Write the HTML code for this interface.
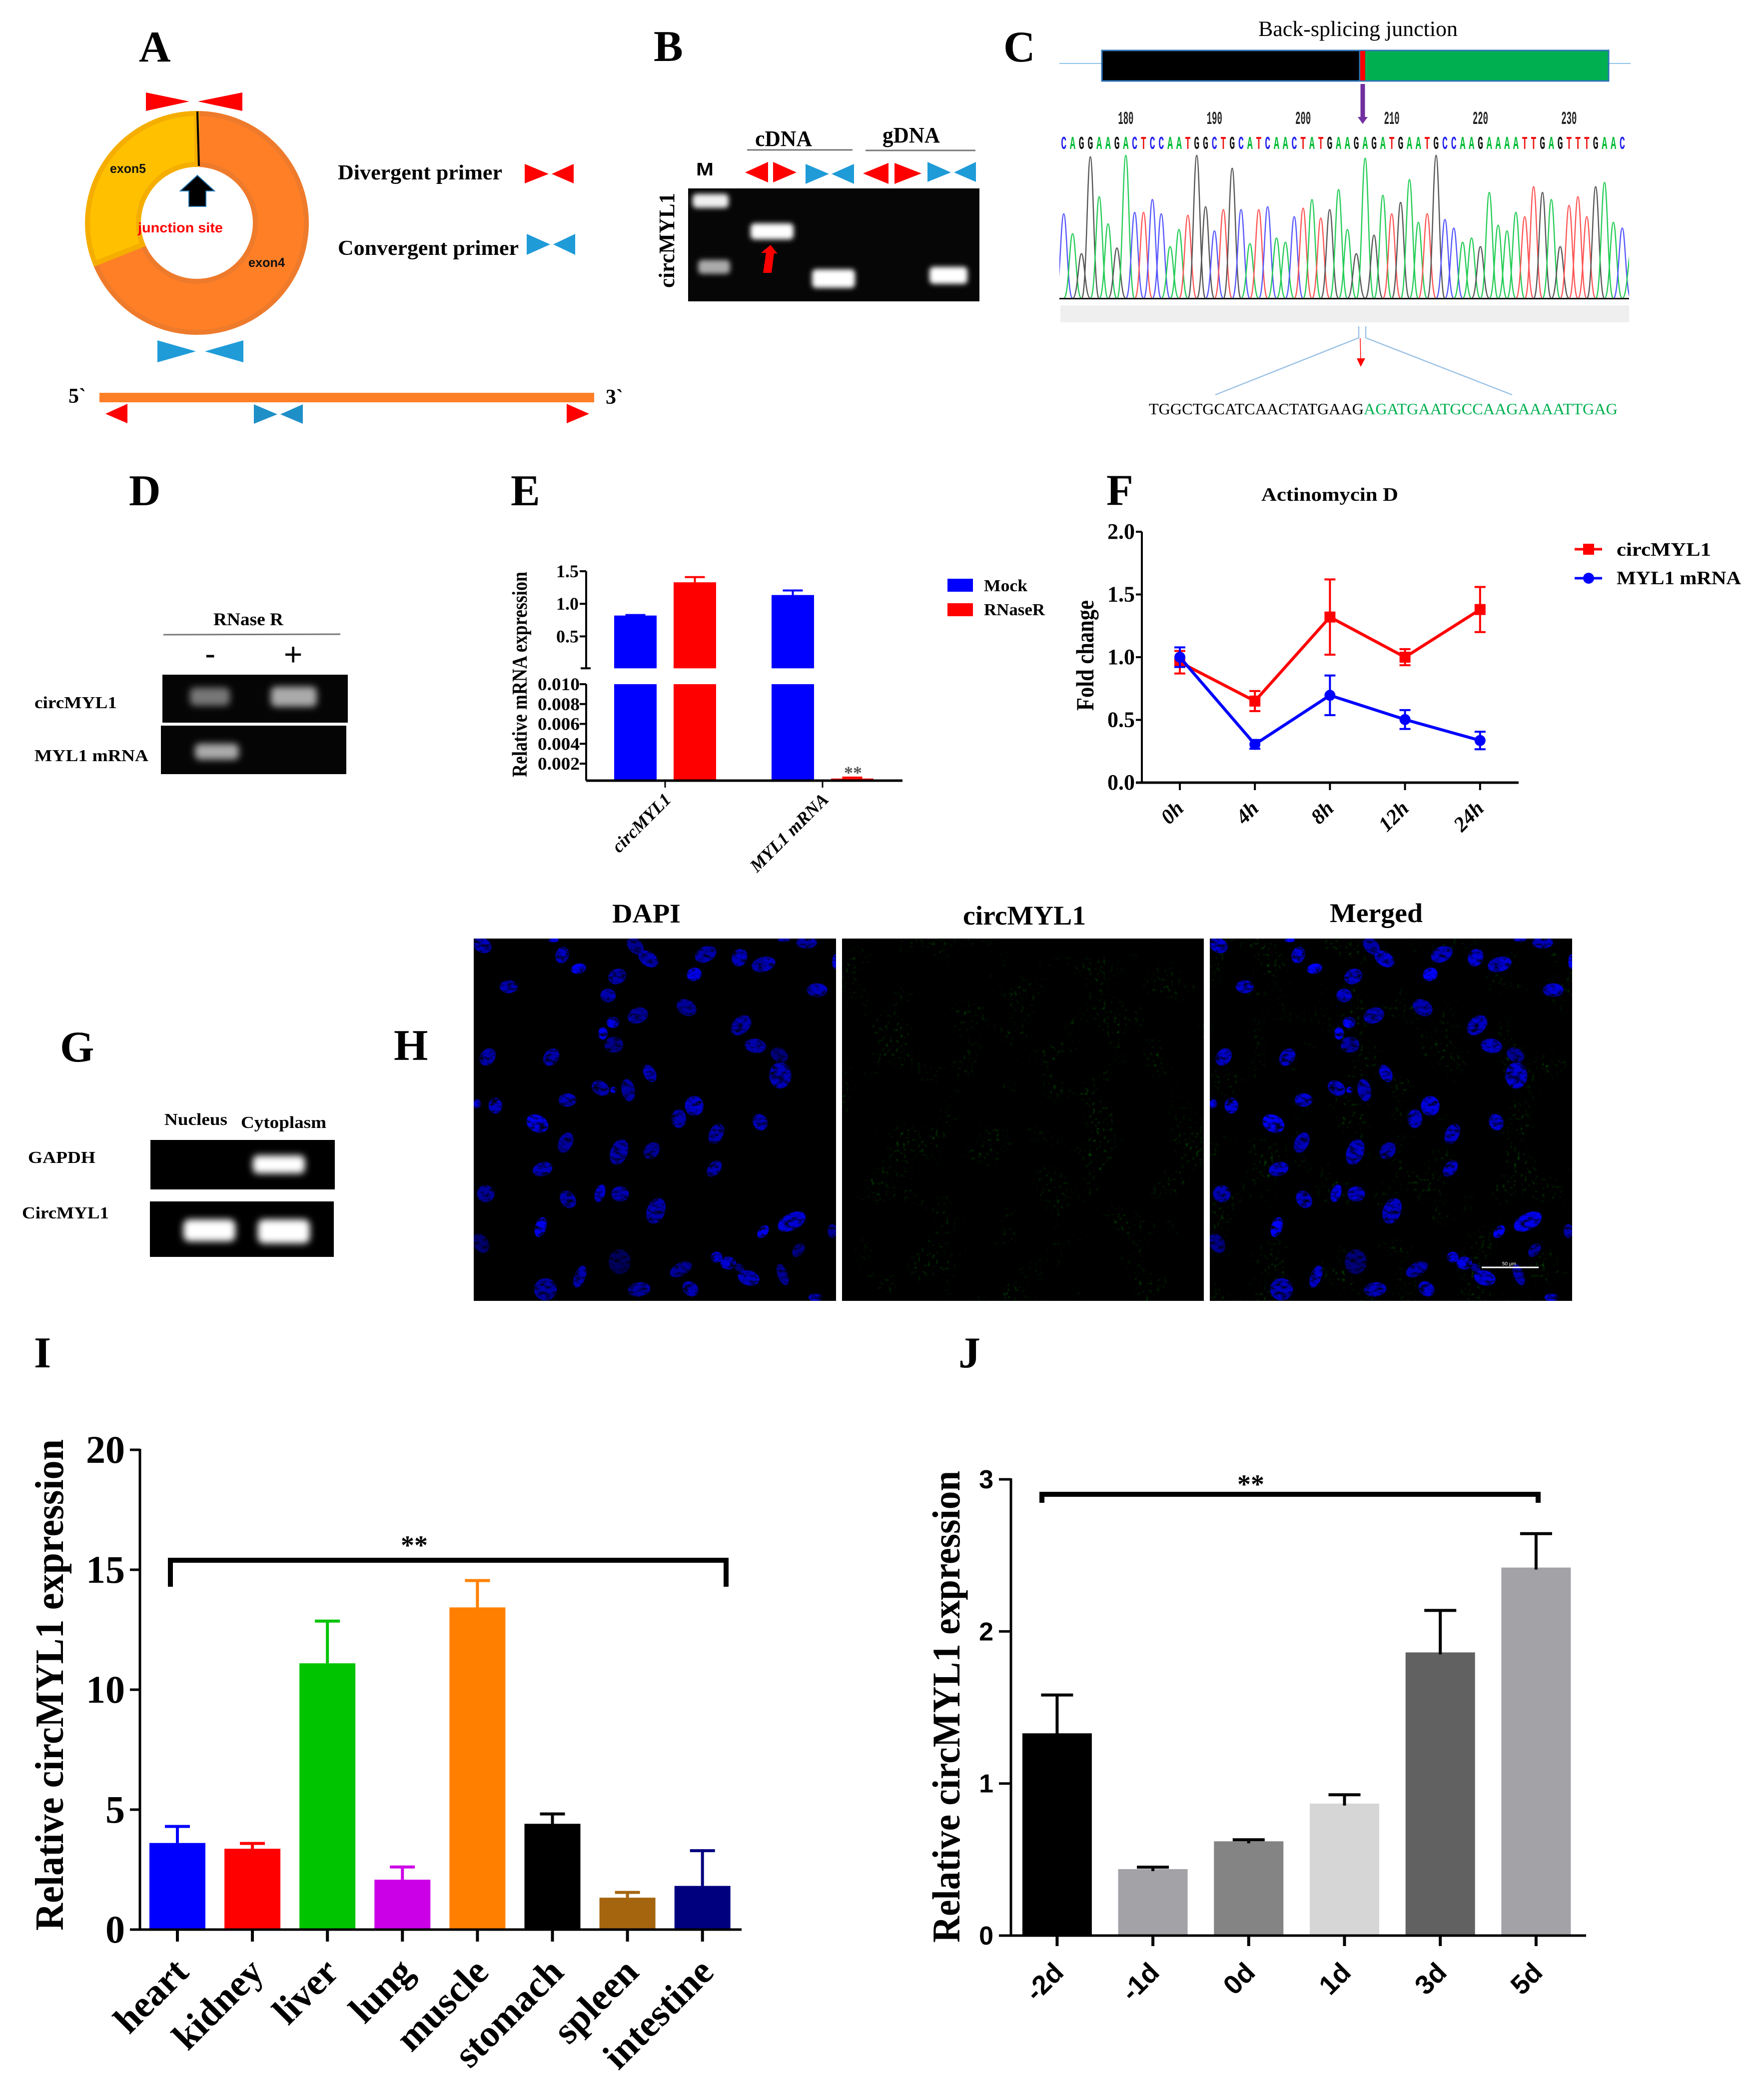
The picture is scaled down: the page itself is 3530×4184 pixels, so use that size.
<!DOCTYPE html>
<html lang="en">
<head>
<meta charset="utf-8">
<title>circMYL1 multi-panel figure</title>
<style>
html,body{margin:0;padding:0;background:#fff}
svg{display:block}
text{font-family:"Liberation Serif",serif}
.b{font-weight:bold}
.l{font-weight:bold;font-size:88px}
.s{font-family:"Liberation Sans",sans-serif}
</style>
</head>
<body>
<svg id="figure" xmlns="http://www.w3.org/2000/svg" width="3530" height="4184" viewBox="0 0 3530 4184">
<defs>
<filter id="b3" x="-30%" y="-60%" width="160%" height="220%"><feGaussianBlur stdDeviation="5"/></filter>
<filter id="b6" x="-30%" y="-80%" width="160%" height="260%"><feGaussianBlur stdDeviation="7"/></filter>
<filter id="n1" x="-5%" y="-5%" width="110%" height="110%" color-interpolation-filters="sRGB">
<feGaussianBlur in="SourceGraphic" stdDeviation="0.9" result="s"/>
<feTurbulence type="fractalNoise" baseFrequency="0.07" numOctaves="2" seed="7" result="t"/>
<feColorMatrix in="t" type="matrix" values="0 0 0 0 0  0 0 0 0 0  0 0 0 0 0.1  3 0 0 0 -1.3" result="d"/>
<feComposite in="d" in2="s" operator="in" result="dd"/>
<feMerge><feMergeNode in="s"/><feMergeNode in="dd"/></feMerge>
</filter>
<filter id="speckle" x="0" y="0" width="100%" height="100%" color-interpolation-filters="sRGB">
<feTurbulence type="fractalNoise" baseFrequency="0.14" numOctaves="2" seed="4" result="fine"/>
<feColorMatrix in="fine" type="matrix" values="0 0 0 0 0  0.3 0 0 0 0  0 0 0 0 0  4 0 0 0 -2.3" result="dots"/>
<feTurbulence type="fractalNoise" baseFrequency="0.012" numOctaves="2" seed="9" result="big"/>
<feColorMatrix in="big" type="matrix" values="0 0 0 0 0  0 0 0 0 0  0 0 0 0 0  0 5 0 0 -2.5" result="mask"/>
<feComposite in="dots" in2="mask" operator="in"/>
</filter>
<clipPath id="chromClip"><rect x="2120" y="270" width="1140" height="335"/></clipPath>
<clipPath id="img1"><rect x="948" y="1878" width="725" height="725"/></clipPath>
<clipPath id="img3"><rect x="2421" y="1878" width="725" height="725"/></clipPath>
</defs>
<rect width="3530" height="4184" fill="#fff"/>

<!-- Panel letters -->
<g fill="#000">
<text class="l" x="278" y="123">A</text>
<text class="l" x="1308" y="122">B</text>
<text class="l" x="2008" y="123">C</text>
<text class="l" x="258" y="1011">D</text>
<text class="l" x="1022" y="1011">E</text>
<text class="l" x="2214" y="1010">F</text>
<text class="l" x="120" y="2124">G</text>
<text class="l" x="788" y="2121">H</text>
<text class="l" x="68" y="2736">I</text>
<text class="l" x="1918" y="2736">J</text>
</g>

<!-- Panel A -->
<g>
<polygon points="292,185 379,203 292,222" fill="#f00"/>
<polygon points="485,185 396,203 485,222" fill="#f00"/>
<path d="M394,227 A219,219 0 1 1 190.7,527.3 L285.4,489.5 A117,117 0 1 0 394,329 Z" fill="#FF7F27" stroke="#EE7A2B" stroke-width="10"/>
<path d="M394,227 A219,219 0 0 0 190.7,527.3 L285.4,489.5 A117,117 0 0 1 394,329 Z" fill="#FFC000" stroke="#F5AE00" stroke-width="10"/>
<line x1="395" y1="223" x2="398" y2="332" stroke="#000" stroke-width="4"/>
<polygon points="395,351 429,382 412,382 412,413 378,413 378,382 361,382" fill="#000" stroke="#1F6FA8" stroke-width="2"/>
<text class="s b" x="276" y="465" font-size="28" fill="#f00" textLength="170" lengthAdjust="spacingAndGlyphs">junction site</text>
<text class="s" x="220" y="346" font-size="26" font-weight="bold" fill="#111" textLength="72" lengthAdjust="spacingAndGlyphs">exon5</text>
<text class="s" x="497" y="534" font-size="26" font-weight="bold" fill="#111" textLength="73" lengthAdjust="spacingAndGlyphs">exon4</text>
<text class="b" x="676" y="359" font-size="42" textLength="329" lengthAdjust="spacingAndGlyphs">Divergent primer</text>
<polygon points="1050,328 1098,348 1050,367" fill="#f00"/>
<polygon points="1148,328 1104,348 1148,367" fill="#f00"/>
<text class="b" x="676" y="510" font-size="42" textLength="362" lengthAdjust="spacingAndGlyphs">Convergent primer</text>
<polygon points="1054,468 1101,489 1054,510" fill="#1F9BD8"/>
<polygon points="1151,468 1107,489 1151,510" fill="#1F9BD8"/>
<polygon points="315,681 392,703 315,725" fill="#1F9BD8"/>
<polygon points="487,681 410,703 487,725" fill="#1F9BD8"/>
<rect x="199" y="786" width="990" height="19" fill="#FF7F27"/>
<text class="b" x="137" y="806" font-size="42">5`</text>
<text class="b" x="1212" y="808" font-size="42">3`</text>
<polygon points="255,808 211,828 255,847" fill="#f00"/>
<polygon points="508,809 555,829 508,848" fill="#1F8FC8"/>
<polygon points="606,809 561,829 606,848" fill="#1F8FC8"/>
<polygon points="1134,808 1179,828 1134,847" fill="#f00"/>
</g>

<!-- Panel B -->
<g>
<text class="b" x="1511" y="292" font-size="44" textLength="114" lengthAdjust="spacingAndGlyphs">cDNA</text>
<text class="b" x="1766" y="285" font-size="44" textLength="115" lengthAdjust="spacingAndGlyphs">gDNA</text>
<line x1="1495" y1="300" x2="1706" y2="300" stroke="#777" stroke-width="3"/>
<line x1="1732" y1="301" x2="1952" y2="301" stroke="#777" stroke-width="3"/>
<text class="s b" x="1393" y="351" font-size="36" textLength="35" lengthAdjust="spacingAndGlyphs">M</text>
<polygon points="1537,324 1491,345 1537,365" fill="#f00"/>
<polygon points="1547,324 1594,345 1547,365" fill="#f00"/>
<polygon points="1612,328 1659,348 1612,368" fill="#1F9BD8"/>
<polygon points="1709,328 1664,348 1709,368" fill="#1F9BD8"/>
<polygon points="1778,326 1727,347 1778,368" fill="#f00"/>
<polygon points="1790,326 1844,347 1790,368" fill="#f00"/>
<polygon points="1856,324 1903,345 1856,364" fill="#1F9BD8"/>
<polygon points="1953,324 1909,345 1953,364" fill="#1F9BD8"/>
<rect x="1377" y="377" width="583" height="226" fill="#060606"/>
<g filter="url(#b3)">
<rect x="1386" y="388" width="72" height="28" rx="8" fill="#f0f0f0"/>
<rect x="1397" y="520" width="64" height="28" rx="8" fill="#aaa"/>
<rect x="1502" y="447" width="86" height="32" rx="8" fill="#fff"/>
<rect x="1625" y="539" width="86" height="37" rx="8" fill="#fff"/>
<rect x="1860" y="534" width="76" height="34" rx="8" fill="#fff"/>
</g>
<polygon points="1542,490 1556,508 1549,507 1544,546 1527,546 1533,506 1523,506" fill="#f00"/>
<text class="b" transform="translate(1349,576) rotate(-90)" font-size="44" textLength="190" lengthAdjust="spacingAndGlyphs">circMYL1</text>
</g>

<!-- Panel C -->
<g>
<text x="2518" y="72" font-size="43" textLength="399" lengthAdjust="spacingAndGlyphs">Back-splicing junction</text>
<line x1="2120" y1="127" x2="2205" y2="127" stroke="#8CC4EA" stroke-width="2"/>
<line x1="3219" y1="127" x2="3263" y2="127" stroke="#8CC4EA" stroke-width="2"/>
<rect x="2205" y="101" width="1014" height="61" fill="#00B050" stroke="#2E75B6" stroke-width="3"/>
<rect x="2205" y="101" width="516" height="61" fill="#000" stroke="#2E75B6" stroke-width="3"/>
<rect x="2722" y="102" width="10" height="59" fill="#f00"/>
<line x1="2727" y1="168" x2="2727" y2="236" stroke="#7030A0" stroke-width="9"/>
<polygon points="2717,234 2737,234 2727,248" fill="#7030A0"/>
<g id="chromLayer" clip-path="url(#chromClip)"></g>
<g id="chromLetters"></g>
<g id="chromTicks"></g>
<rect x="2120" y="596" width="1140" height="3" fill="#111"/>
<rect x="2122" y="611" width="1138" height="34" fill="#EFEFEF"/>
<path d="M2719,653 V676 L2432,790" fill="none" stroke="#9DC3E6" stroke-width="2.5"/>
<path d="M2733,653 V676 L3026,790" fill="none" stroke="#9DC3E6" stroke-width="2.5"/>
<line x1="2722" y1="677" x2="2723" y2="720" stroke="#f00" stroke-width="1.5"/>
<polygon points="2715,717 2732,717 2723,734" fill="#f00"/>
<text x="2299" y="829" font-size="32" textLength="430" lengthAdjust="spacingAndGlyphs">TGGCTGCATCAACTATGAAG</text>
<text x="2729" y="829" font-size="32" fill="#00B050" textLength="508" lengthAdjust="spacingAndGlyphs">AGATGAATGCCAAGAAAATTGAG</text>
</g>

<!-- Panel D -->
<g>
<text class="b" x="427" y="1251" font-size="36" textLength="140" lengthAdjust="spacingAndGlyphs">RNase R</text>
<line x1="327" y1="1270" x2="681" y2="1269" stroke="#777" stroke-width="3"/>
<text class="s" x="410" y="1330" font-size="64">-</text>
<text class="s" x="568" y="1331" font-size="64">+</text>
<rect x="325" y="1350" width="371" height="96" fill="#050505"/>
<rect x="322" y="1452" width="371" height="97" fill="#050505"/>
<rect x="380" y="1376" width="80" height="36" rx="10" fill="#777" filter="url(#b6)"/>
<rect x="542" y="1374" width="92" height="40" rx="10" fill="#aaa" filter="url(#b6)"/>
<rect x="390" y="1488" width="88" height="32" rx="10" fill="#aaa" filter="url(#b6)"/>
<text class="b" x="69" y="1417" font-size="34" textLength="165" lengthAdjust="spacingAndGlyphs">circMYL1</text>
<text class="b" x="69" y="1523" font-size="34" textLength="228" lengthAdjust="spacingAndGlyphs">MYL1 mRNA</text>
</g>

<!-- Panel E -->
<g id="chartE"></g>
<!-- Panel F -->
<g id="chartF">
<text class="b" x="2524" y="1002" font-size="38" textLength="274" lengthAdjust="spacingAndGlyphs">Actinomycin D</text>
</g>

<!-- Panel G -->
<g>
<text class="b" x="329" y="2251" font-size="34" textLength="126" lengthAdjust="spacingAndGlyphs">Nucleus</text>
<text class="b" x="482" y="2257" font-size="34" textLength="171" lengthAdjust="spacingAndGlyphs">Cytoplasm</text>
<text class="b" x="56" y="2327" font-size="34" textLength="135" lengthAdjust="spacingAndGlyphs">GAPDH</text>
<text class="b" x="44" y="2438" font-size="34" textLength="174" lengthAdjust="spacingAndGlyphs">CircMYL1</text>
<rect x="301" y="2281" width="369" height="99" fill="#000"/>
<rect x="300" y="2404" width="368" height="111" fill="#000"/>
<rect x="506" y="2312" width="104" height="36" rx="10" fill="#fff" filter="url(#b6)"/>
<rect x="367" y="2440" width="104" height="44" rx="12" fill="#fff" filter="url(#b6)"/>
<rect x="516" y="2440" width="104" height="48" rx="12" fill="#fff" filter="url(#b6)"/>
</g>

<!-- Panel H -->
<g>
<text class="b" x="1225" y="1846" font-size="54" textLength="137" lengthAdjust="spacingAndGlyphs">DAPI</text>
<text class="b" x="1927" y="1850" font-size="54" textLength="246" lengthAdjust="spacingAndGlyphs">circMYL1</text>
<text class="b" x="2661" y="1845" font-size="54" textLength="186" lengthAdjust="spacingAndGlyphs">Merged</text>
<rect x="948" y="1878" width="725" height="725" fill="#000"/>
<rect x="1685" y="1878" width="724" height="725" fill="#000"/>
<rect x="2421" y="1878" width="725" height="725" fill="#000"/>
<rect x="1685" y="1878" width="724" height="725" fill="#000" filter="url(#speckle)"/>
<rect x="2421" y="1878" width="725" height="725" fill="#000" filter="url(#speckle)"/>
<g id="nucleiA" clip-path="url(#img1)"></g>
<g id="nucleiB" clip-path="url(#img3)"></g>
<line x1="2965" y1="2536" x2="3079" y2="2536" stroke="#fff" stroke-width="3"/>
<text class="s" x="3006" y="2532" font-size="10" fill="#fff">50 μm</text>
</g>

<!-- Panels I, J -->
<g id="chartI"></g>
<g id="chartJ"></g>

<script>
/* ---------- Panel C data ---------- */
const chromBases = ['C','A','G','G','A','A','G','A','C','T','C','C','A','A','T','G','G','C','T','G','C','A','T','C','A','A','C','T','A','T','G','A','A','G','A','G','A','T','G','A','A','T','G','C','C','A','A','G','A','A','A','A','T','T','G','A','G','T','T','T','G','A','A','C','A'];
const chromSignal = [59,45,31,99,71,52,35,100,60,60,69,59,36,48,58,100,64,47,62,91,62,38,62,64,42,39,57,63,69,56,62,76,48,31,98,44,72,59,67,83,53,59,100,55,49,39,42,36,74,51,47,60,57,78,74,69,36,65,71,57,78,81,53,49,32];
const chromPositions = ['180','190','200','210','220','230'];

/* ---------- Panel E data ---------- */
const eCategories = ['circMYL1','MYL1 mRNA'];
const eSeriesNames = ['Mock','RNaseR'];
const eMock = [0.82,1.135];
const eMockErr = [0.008,0.07];
const eRNase = [1.33,0.0005];
const eRNaseErr = [0.08,0.0001];
const eUpperTicks = ['0.5','1.0','1.5'];
const eLowerTicks = ['0.002','0.004','0.006','0.008','0.010'];

/* ---------- Panel F data ---------- */
const fCategories = ['0h','4h','8h','12h','24h'];
const fCirc = [0.96,0.65,1.32,1.0,1.38];
const fCircErr = [0.09,0.08,0.3,0.064,0.18];
const fMrna = [1.0,0.305,0.696,0.503,0.336];
const fMrnaErr = [0.078,0.035,0.158,0.075,0.07];
const fTicks = ['0.0','0.5','1.0','1.5','2.0'];

/* ---------- Panel I data ---------- */
const iCategories = ['heart','kidney','liver','lung','muscle','stomach','spleen','intestine'];
const iValues = [3.61,3.37,11.1,2.08,13.43,4.41,1.33,1.82];
const iErrors = [0.69,0.22,1.76,0.53,1.12,0.41,0.22,1.47];
const iColors = ['#0000FF','#FF0000','#00C400','#CC00E6','#FF8000','#000000','#A5650F','#00007F'];
const iTicks = ['0','5','10','15','20'];

/* ---------- Panel J data ---------- */
const jCategories = ['-2d','-1d','0d','1d','3d','5d'];
const jValues = [1.33,0.437,0.62,0.868,1.862,2.42];
const jErrors = [0.252,0.013,0.01,0.058,0.276,0.223];
const jColors = ['#000000','#A3A2A7','#848484','#D6D6D6','#616161','#A3A2A7'];
const jTicks = ['0','1','2','3'];

/* ---------- Micrograph sketch: cx, cy, rx, ry, rot, brightness ---------- */
const nucleiSketch = [[68,205,17,27,-15,.8],[217,185,10,8,0,.9],[235,241,13,28,5,.8],[269,291,14,18,20,1],[388,208,15,30,-15,.55],[415,255,17,30,-20,.75],[350,320,17,27,10,.7],[535,238,19,30,20,.7],[511,312,14,23,5,1],[606,250,15,30,5,.8],[656,275,21,28,30,.75],[698,183,12,8,0,.7],[746,195,20,20,20,.65],[806,265,6,25,0,.9],[123,358,17,22,0,.75],[331,390,15,23,0,.75],[768,370,20,23,0,.8],[495,435,18,30,-15,.6],[393,464,19,28,15,.65],[341,490,12,19,0,1],[320,530,9,21,0,1],[343,572,18,27,0,.55],[609,500,18,35,15,.7],[639,576,20,25,-15,.7],[689,610,16,26,-15,.45],[79,617,15,30,10,.7],[212,618,15,30,10,.7],[418,678,12,30,-10,.75],[691,685,21,45,0,.75],[315,732,16,27,-15,.7],[342,739,6,11,0,1],[373,740,13,38,-5,.65],[57,790,7,16,0,.9],[95,797,13,27,0,.8],[246,776,17,23,0,.75],[511,798,18,34,0,.85],[479,845,14,32,0,.7],[183,863,20,32,-15,1],[557,901,14,35,10,.7],[649,858,14,28,-5,.8],[242,933,14,35,10,.65],[354,968,17,44,8,.7],[422,963,15,29,10,.6],[194,1031,18,25,20,.75],[553,1029,13,28,15,.7],[75,1122,17,29,0,.6],[247,1143,15,30,-10,.7],[314,1120,10,30,8,.85],[356,1123,17,26,0,.75],[431,1185,18,44,8,.7],[190,1245,11,34,8,1],[715,1225,22,38,30,.9],[655,1262,10,22,15,1],[800,1260,9,24,0,.6],[65,1305,15,33,-10,.4],[729,1330,11,24,15,.5],[355,1373,21,42,0,.3],[558,1356,11,18,0,1],[582,1378,15,22,0,.9],[605,1395,9,15,-20,.4],[625,1433,20,27,-20,.8],[272,1428,11,38,10,.7],[483,1401,17,30,30,.6],[696,1421,10,37,-10,.6],[200,1475,22,38,0,.65],[396,1475,21,25,20,.65],[503,1473,15,26,-10,.75],[764,1505,13,13,0,.8]];

const NS = 'http://www.w3.org/2000/svg';
function make(tag, attrs, parent, content) {
  const node = document.createElementNS(NS, tag);
  for (const k in attrs) node.setAttribute(k, attrs[k]);
  if (content !== undefined) node.textContent = content;
  parent.appendChild(node);
  return node;
}
const SANS = '"Liberation Sans",sans-serif';

/* ---------- Chromatogram ---------- */
(function () {
  const peaks = document.getElementById('chromLayer');
  const letters = document.getElementById('chromLetters');
  const ticks = document.getElementById('chromTicks');
  const baseColor = { A: '#22CC55', C: '#5555FF', G: '#555555', T: '#FF5555' };
  const letterColor = { A: '#00BB33', C: '#2222EE', G: '#111111', T: '#EE1111' };
  const xOf = i => 2128.7 + i * 17.74;
  const yOf = s => 596 - s * 2.85;
  chromBases.forEach((b, i) => {
    const x = xOf(i), top = yOf(chromSignal[i]), w = 17;
    const p = make('path', {
      d: 'M' + (x - w) + ',596 C' + (x - w * 0.45) + ',596 ' + (x - w * 0.35) + ',' + top + ' ' + x + ',' + top + ' C' + (x + w * 0.35) + ',' + top + ' ' + (x + w * 0.45) + ',596 ' + (x + w) + ',596',
      fill: 'none', stroke: baseColor[b], 'stroke-width': 2.4
    }, peaks);
    
    
    if (x < 3258) {
      const t = make('text', {
        x: x, y: 298, 'text-anchor': 'middle', 'font-size': 36,
        'font-weight': 'bold', fill: letterColor[b], textLength: 11,
        lengthAdjust: 'spacingAndGlyphs', style: 'font-family:"Liberation Mono",monospace'
      }, letters, b);
      
      
    }
  });
  chromPositions.forEach((label) => {
    const x = xOf((Number(label) - 180) + 7);
    const t = make('text', {
      x: x, y: 248, 'text-anchor': 'middle', 'font-size': 36, 'font-weight': 'bold',
      fill: '#222', textLength: 31, lengthAdjust: 'spacingAndGlyphs',
      style: 'font-family:"Liberation Mono",monospace'
    }, ticks, label);
    
    
  });
})();

/* ---------- Nuclei ---------- */
(function () {
  [['nucleiA', 948, 0.12, 0.8], ['nucleiB', 2421, 0.25, 0.75]].forEach(([id, left, lo, span]) => {
    const root = document.getElementById(id);
    const g = make('g', { transform: 'translate(' + left + ',1878) scale(.957,.542) translate(-50,-180)', filter: 'url(#n1)' }, root);
    
    
    nucleiSketch.forEach(n => {
      const e = make('ellipse', {
        cx: n[0], cy: n[1], rx: n[2] * 1.08, ry: n[3] * 1.08,
        transform: 'rotate(' + n[4] + ' ' + n[0] + ' ' + n[1] + ')',
        fill: 'rgb(0,0,' + Math.round(255 * (lo + span * n[5])) + ')'
      }, g);
      
      
    });
  });
})();

/* ---------- Panel E ---------- */
(function () {
  const g = document.getElementById('chartE');
  const yUp = v => 1143 + (1.5 - v) * 130.4;
  const yLo = v => 1369 + (0.01 - v) * 19875;
  const groupX = i => 1331 + i * 315;
  const BREAK = 0.01, BASE = 1562;

  const axU = make('line', { x1: 1173, y1: yUp(1.5), x2: 1173, y2: yUp(BREAK), stroke: '#000', 'stroke-width': 4 }, g);
  
  
  const axL = make('line', { x1: 1173, y1: yLo(BREAK), x2: 1173, y2: BASE, stroke: '#000', 'stroke-width': 4 }, g);
  
  
  const brk = make('line', { x1: 1162, y1: yUp(BREAK), x2: 1182, y2: yUp(BREAK), stroke: '#000', 'stroke-width': 4 }, g);
  
  

  eUpperTicks.forEach(l => {
    const y = yUp(Number(l));
    const t = make('line', { x1: 1160, y1: y, x2: 1173, y2: y, stroke: '#000', 'stroke-width': 4 }, g);
    
    
    const x = make('text', { x: 1158, y: y + 12, 'text-anchor': 'end', 'font-size': 36, 'font-weight': 'bold' }, g, l);
    
    
  });
  eLowerTicks.forEach(l => {
    const y = yLo(Number(l));
    const t = make('line', { x1: 1160, y1: y, x2: 1173, y2: y, stroke: '#000', 'stroke-width': 4 }, g);
    
    
    const x = make('text', { x: 1160, y: y + 12, 'text-anchor': 'end', 'font-size': 36, 'font-weight': 'bold', textLength: 84, lengthAdjust: 'spacingAndGlyphs' }, g, l);
    
    
  });

  const drawBar = (cx, v, err, color, name) => {
    const w = 85, xl = cx - w / 2;
    const low = make('rect', { x: xl, y: v >= BREAK ? yLo(BREAK) : yLo(v), width: w, height: BASE - (v >= BREAK ? yLo(BREAK) : yLo(v)), fill: color }, g);
    
    
    const top = v >= BREAK ? yUp(v + err) : yLo(v + err);
    const base = v >= BREAK ? yUp(v) : yLo(v);
    if (v >= BREAK) {
      const up = make('rect', { x: xl, y: yUp(v), width: w, height: yUp(BREAK) - yUp(v), fill: color }, g);
      
      
    }
    const stem = make('line', { x1: cx, y1: base, x2: cx, y2: top, stroke: color, 'stroke-width': 4 }, g);
    
    
    const cap = make('line', { x1: cx - 20, y1: top, x2: cx + 20, y2: top, stroke: color, 'stroke-width': 4 }, g);
    
    
  };

  eCategories.forEach((c, i) => {
    drawBar(groupX(i) - 59.5, eMock[i], eMockErr[i], '#0000FF', eSeriesNames[0] + '-' + c);
    drawBar(groupX(i) + 59.5, eRNase[i], eRNaseErr[i], '#FF0000', eSeriesNames[1] + '-' + c);
    const tk = make('line', { x1: groupX(i), y1: BASE, x2: groupX(i), y2: 1576, stroke: '#000', 'stroke-width': 3 }, g);
    
    
    const lab = make('text', { transform: 'translate(' + (groupX(i) + 14) + ',1602) rotate(-45)', 'text-anchor': 'end', 'font-size': 36, 'font-weight': 'bold', 'font-style': 'italic' }, g, c);
    
    
  });

  const xa = make('line', { x1: 1173, y1: BASE, x2: 1806, y2: BASE, stroke: '#000', 'stroke-width': 5 }, g);
  
  
  const st = make('text', { x: 1707, y: 1558, 'text-anchor': 'middle', 'font-size': 36, 'font-weight': 'bold', fill: '#555' }, g, '**');
  
  
  const yt = make('text', { transform: 'translate(1054,1555) rotate(-90)', 'font-size': 42, 'font-weight': 'bold', textLength: 411, lengthAdjust: 'spacingAndGlyphs' }, g, 'Relative mRNA expression');
  
  

  const colors = ['#0000FF', '#FF0000'], tops = [1158, 1207], bases = [1183, 1231], lens = [87, 122];
  eSeriesNames.forEach((n, i) => {
    const sw = make('rect', { x: 1896, y: tops[i], width: 51, height: 26, fill: colors[i] }, g);
    
    
    const tx = make('text', { x: 1969, y: bases[i], 'font-size': 34, 'font-weight': 'bold', textLength: lens[i], lengthAdjust: 'spacingAndGlyphs' }, g, n);
    
    
  });
})();

/* ---------- Panel F ---------- */
(function () {
  const g = document.getElementById('chartF');
  const fY = v => 1566 - v * 251;
  const fX = i => 2361 + i * 150.2;

  const ya = make('line', { x1: 2285, y1: fY(2), x2: 2285, y2: fY(0), stroke: '#000', 'stroke-width': 4 }, g);
  
  
  const xa = make('line', { x1: 2273, y1: fY(0), x2: 3039, y2: fY(0), stroke: '#000', 'stroke-width': 5 }, g);
  
  

  fTicks.forEach(l => {
    const y = fY(Number(l));
    const t = make('line', { x1: 2273, y1: y, x2: 2285, y2: y, stroke: '#000', 'stroke-width': 4 }, g);
    
    
    const x = make('text', { x: 2271, y: y + 14, 'text-anchor': 'end', 'font-size': 44, 'font-weight': 'bold' }, g, l);
    
    
  });
  fCategories.forEach((c, i) => {
    const t = make('line', { x1: fX(i), y1: fY(0), x2: fX(i), y2: 1581, stroke: '#000', 'stroke-width': 4 }, g);
    
    
    const l = make('text', { transform: 'translate(' + (fX(i) + 10) + ',1620) rotate(-45)', 'text-anchor': 'end', 'font-size': 42, 'font-weight': 'bold', 'font-style': 'italic' }, g, c);
    
    
  });
  const drawSeries = (vals, errs, color, name, square) => {
    const ln = make('polyline', { points: vals.map((v, i) => fX(i) + ',' + fY(v)).join(' '), fill: 'none', stroke: color, 'stroke-width': 6 }, g);
    
    
    vals.forEach((v, i) => {
      const x = fX(i), up = fY(v + errs[i]), lo = fY(v - errs[i]);
      const e = make('path', { d: 'M' + x + ',' + up + 'V' + lo + 'M' + (x - 11) + ',' + up + 'H' + (x + 11) + 'M' + (x - 11) + ',' + lo + 'H' + (x + 11), fill: 'none', stroke: color, 'stroke-width': 4 }, g);
      
      
      const m = square
        ? make('rect', { x: x - 11, y: fY(v) - 11, width: 22, height: 22, fill: color }, g)
        : make('circle', { cx: x, cy: fY(v), r: 11, fill: color }, g);
      
      
    });
  };
  drawSeries(fCirc, fCircErr, '#FF0000', 'circmyl1', true);
  drawSeries(fMrna, fMrnaErr, '#0000FF', 'myl1-mrna', false);

  const yt = make('text', { transform: 'translate(2188,1422) rotate(-90)', 'font-size': 50, 'font-weight': 'bold', textLength: 221, lengthAdjust: 'spacingAndGlyphs' }, g, 'Fold change');
  
  

  const l1 = make('line', { x1: 3151, y1: 1099, x2: 3206, y2: 1099, stroke: '#FF0000', 'stroke-width': 5 }, g);
  
  
  const m1 = make('rect', { x: 3168, y: 1088, width: 22, height: 22, fill: '#FF0000' }, g);
  
  
  const t1 = make('text', { x: 3235, y: 1112, 'font-size': 38, 'font-weight': 'bold', textLength: 189, lengthAdjust: 'spacingAndGlyphs' }, g, 'circMYL1');
  
  
  const l2 = make('line', { x1: 3151, y1: 1157, x2: 3206, y2: 1157, stroke: '#0000FF', 'stroke-width': 5 }, g);
  
  
  const m2 = make('circle', { cx: 3179, cy: 1157, r: 11, fill: '#0000FF' }, g);
  
  
  const t2 = make('text', { x: 3235, y: 1169, 'font-size': 38, 'font-weight': 'bold', textLength: 249, lengthAdjust: 'spacingAndGlyphs' }, g, 'MYL1 mRNA');
  
  
})();

/* ---------- Panel I ---------- */
(function () {
  const g = document.getElementById('chartI');
  const iY = v => 3861 - v * 48;
  const iX = i => 355 + i * 150.1;
  const ya = make('line', { x1: 280, y1: iY(20) - 2, x2: 280, y2: iY(0), stroke: '#000', 'stroke-width': 5 }, g);
  
  

  iTicks.forEach(l => {
    const y = iY(Number(l));
    const t = make('line', { x1: 260, y1: y, x2: 280, y2: y, stroke: '#000', 'stroke-width': 5 }, g);
    
    
    const x = make('text', { x: 250, y: y + 26, 'text-anchor': 'end', 'font-size': 78, 'font-weight': 'bold' }, g, l);
    
    
  });
  iCategories.forEach((c, i) => {
    const cx = iX(i), w = 112;
    const e = make('path', { d: 'M' + cx + ',' + iY(iValues[i]) + 'V' + iY(iValues[i] + iErrors[i]) + 'M' + (cx - 25) + ',' + iY(iValues[i] + iErrors[i]) + 'H' + (cx + 25), fill: 'none', stroke: iColors[i], 'stroke-width': 6 }, g);
    
    
    const b = make('rect', { x: cx - w / 2, y: iY(iValues[i]), width: w, height: iY(0) - iY(iValues[i]), fill: iColors[i] }, g);
    
    
    const t = make('line', { x1: cx, y1: iY(0), x2: cx, y2: 3885, stroke: '#000', 'stroke-width': 6 }, g);
    
    
    const l = make('text', { transform: 'translate(' + (cx + 26) + ',3950) rotate(-45)', 'text-anchor': 'end', 'font-size': 76, 'font-weight': 'bold' }, g, c);
    
    
  });
  const xa = make('line', { x1: 260, y1: iY(0), x2: 1484, y2: iY(0), stroke: '#000', 'stroke-width': 5 }, g);
  
  
  const br = make('path', { d: 'M341,3175V3122H1453V3175', fill: 'none', stroke: '#000', 'stroke-width': 10 }, g);
  
  
  const st = make('text', { x: 829, y: 3110, 'text-anchor': 'middle', 'font-size': 54, 'font-weight': 'bold' }, g, '**');
  
  
  const yt = make('text', { transform: 'translate(126,3863) rotate(-90)', 'font-size': 80, 'font-weight': 'bold', textLength: 983, lengthAdjust: 'spacingAndGlyphs' }, g, 'Relative circMYL1 expression');
  
  
})();

/* ---------- Panel J ---------- */
(function () {
  const g = document.getElementById('chartJ');
  const jY = v => 3873 - v * 304.3;
  const jX = i => 2115.4 + i * 191.7;
  const ya = make('line', { x1: 2023, y1: jY(3) - 2, x2: 2023, y2: jY(0), stroke: '#000', 'stroke-width': 5 }, g);
  
  

  jTicks.forEach(l => {
    const y = jY(Number(l));
    const t = make('line', { x1: 1999, y1: y, x2: 2023, y2: y, stroke: '#000', 'stroke-width': 5 }, g);
    
    
    const x = make('text', { x: 1988, y: y + 18, 'text-anchor': 'end', 'font-size': 52, 'font-weight': 'bold', style: 'font-family:' + SANS }, g, l);
    
    
  });
  jCategories.forEach((c, i) => {
    const cx = jX(i), w = 139;
    const b = make('rect', { x: cx - w / 2, y: jY(jValues[i]), width: w, height: jY(0) - jY(jValues[i]), fill: jColors[i] }, g);
    
    
    const e = make('path', { d: 'M' + cx + ',' + (jY(jValues[i]) + 4) + 'V' + jY(jValues[i] + jErrors[i]) + 'M' + (cx - 32) + ',' + jY(jValues[i] + jErrors[i]) + 'H' + (cx + 32), fill: 'none', stroke: '#000', 'stroke-width': 6 }, g);
    
    
    const t = make('line', { x1: cx, y1: jY(0), x2: cx, y2: 3894, stroke: '#000', 'stroke-width': 6 }, g);
    
    
    const l = make('text', { transform: 'translate(' + (cx + 16) + ',3950) rotate(-45)', 'text-anchor': 'end', 'font-size': 54, 'font-weight': 'bold', style: 'font-family:' + SANS }, g, c);
    
    
  });
  const xa = make('line', { x1: 1999, y1: jY(0), x2: 3174, y2: jY(0), stroke: '#000', 'stroke-width': 5 }, g);
  
  
  const br = make('path', { d: 'M2085,3007V2990H3078V3007', fill: 'none', stroke: '#000', 'stroke-width': 10 }, g);
  
  
  const st = make('text', { x: 2503, y: 2988, 'text-anchor': 'middle', 'font-size': 54, 'font-weight': 'bold' }, g, '**');
  
  
  const yt = make('text', { transform: 'translate(1920,3887) rotate(-90)', 'font-size': 78, 'font-weight': 'bold', textLength: 944, lengthAdjust: 'spacingAndGlyphs' }, g, 'Relative circMYL1 expression');
  
  
})();
</script>
</svg>
</body>
</html>
